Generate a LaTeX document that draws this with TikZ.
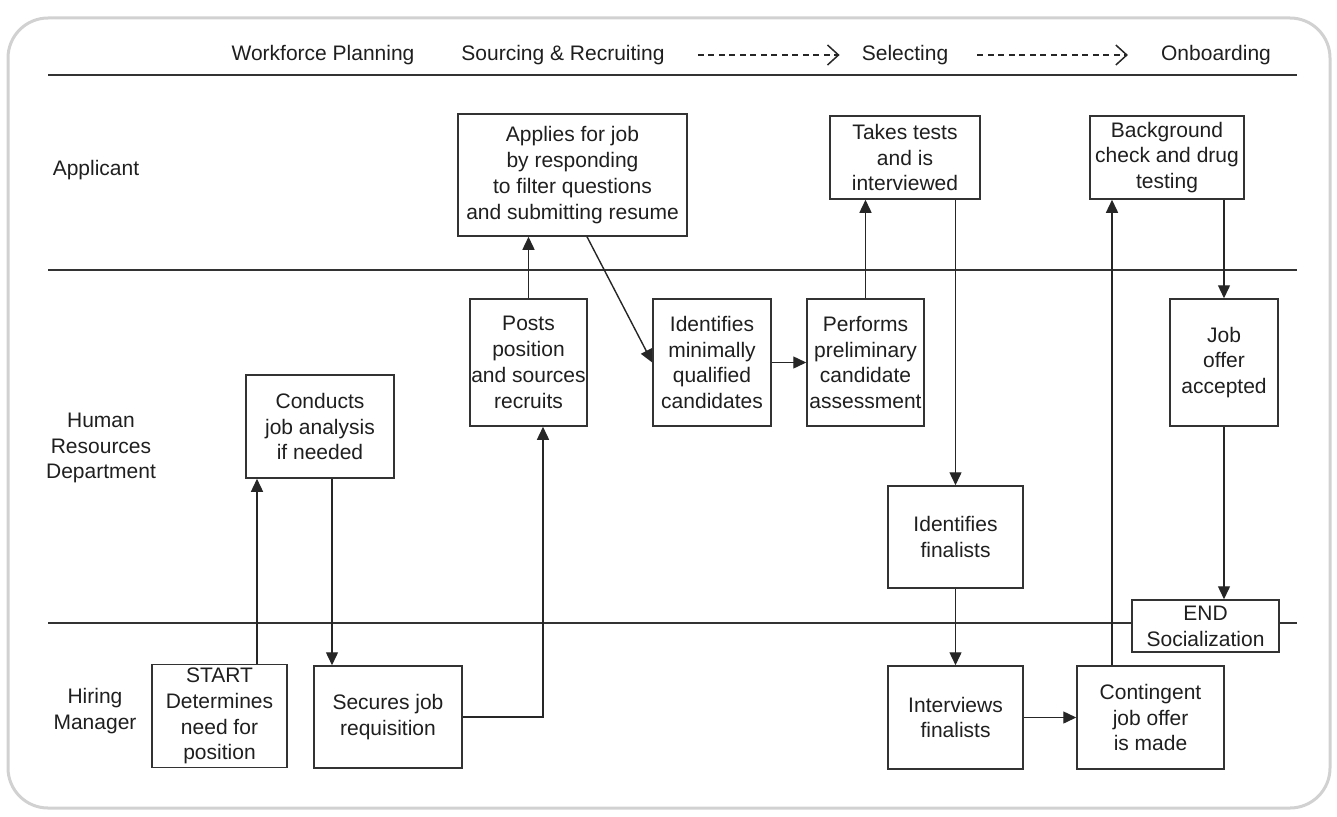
\documentclass[tikz,border=0pt]{standalone}
\usepackage{fontspec}
\setmainfont{Liberation Sans}
\usetikzlibrary{arrows.meta}
\begin{document}
\begin{tikzpicture}[x=1pt,y=-1pt,
  every node/.style={font=\fontsize{21}{25.8}\selectfont, text=black!88},
  box/.style={draw=black!80, line width=1.5pt, fill=white, align=center, inner sep=0pt},
  lane/.style={draw=black!80, line width=1.3pt},
  conn/.style={draw=black!85, line width=1.4pt, -{Triangle[length=13pt,width=12pt]}},
  phase/.style={inner sep=0pt, text height=15pt, text depth=4.5pt},
  phasearrow/.style={draw=black!85, line width=1.1pt, dash pattern=on 6pt off 4.5pt, -{Straight Barb[length=11pt,width=20pt,line width=1.5pt]}},
  lanelabel/.style={align=center, inner sep=0pt}
]
\useasboundingbox (0,0) rectangle (1337,816);
\draw[draw=black!18, line width=3pt, rounded corners=40pt] (8,18) rectangle (1330,808);

% header
\node[phase] (wp) at (323,55) {Workforce Planning};
\node[phase] (sr) at (563,55) {Sourcing \& Recruiting};
\node[phase] (sel) at (905,55) {Selecting};
\node[phase] (onb) at (1216,55) {Onboarding};
\draw[phasearrow, shorten <=33pt, shorten >=22pt] (sr.east) -- (sel.west);
\draw[phasearrow, shorten <=29pt, shorten >=33pt] (sel.east) -- (onb.west);

% lane lines
\draw[lane] (48,75) -- (1297,75);
\draw[lane] (48,270) -- (1297,270);
\draw[lane] (48,623) -- (1297,623);

% lane labels
\node[lanelabel] (lapp) at (96,170) {Applicant};
\node[lanelabel] (lhr) at (101,448) {Human\\Resources\\Department};
\node[lanelabel] (lhm) at (95,711) {Hiring\\Manager};

% boxes
\node[box, minimum width=229pt, minimum height=122pt] (applies) at (572.5,175) {Applies for job\\by responding\\to filter questions\\and submitting resume};
\node[box, minimum width=150pt, minimum height=83pt] (takes) at (905,157.5) {Takes tests\\and is\\interviewed};
\node[box, minimum width=154pt, minimum height=83pt] (bg) at (1167,157.5) {Background\\check and drug\\testing};
\node[box, minimum width=117pt, minimum height=127pt] (posts) at (528.5,362.5) {Posts\\position\\and sources\\recruits};
\node[box, minimum width=118pt, minimum height=127pt] (minq) at (712,362.5) {Identifies\\minimally\\qualified\\candidates};
\node[box, minimum width=117pt, minimum height=127pt] (perf) at (865.5,362.5) {Performs\\preliminary\\candidate\\assessment};
\node[box, minimum width=108pt, minimum height=127pt] (jobok) at (1224,362.5) {Job\\offer\\accepted};
\node[box, minimum width=148pt, minimum height=103pt] (conducts) at (320,426.5) {Conducts\\job analysis\\if needed};
\node[box, minimum width=135pt, minimum height=102pt] (finalists) at (955.5,537) {Identifies\\finalists};
\node[box, minimum width=147pt, minimum height=52pt] (endbox) at (1205.5,626) {END\\Socialization};
\node[box, minimum width=135pt, minimum height=103pt] (start) at (219.5,716) {START\\Determines\\need for\\position};
\node[box, minimum width=148pt, minimum height=102pt] (secures) at (388,717) {Secures job\\requisition};
\node[box, minimum width=135pt, minimum height=103pt] (interviews) at (955.5,717.5) {Interviews\\finalists};
\node[box, minimum width=147pt, minimum height=103pt] (contingent) at (1150.5,717.5) {Contingent\\job offer\\is made};

% connector x positions
\coordinate (c257) at (257,0);
\coordinate (c332) at (332,0);
\coordinate (c543) at (543,0);
\coordinate (c587) at (587,0);
\coordinate (c1112) at (1112,0);

% connectors
\draw[conn] (start.north -| c257) -- (conducts.south -| c257);
\draw[conn] (conducts.south -| c332) -- (secures.north -| c332);
\draw[conn] (secures.east) -| (posts.south -| c543);
\draw[conn] (posts.north) -- (applies.south -| posts.north);
\draw[conn] (applies.south -| c587) -- (minq.west);
\draw[conn] (minq.east) -- (perf.west);
\draw[conn] (perf.north) -- (takes.south -| perf.north);
\draw[conn] (takes.south -| finalists.north) -- (finalists.north);
\draw[conn] (finalists.south) -- (interviews.north);
\draw[conn] (interviews.east) -- (contingent.west);
\draw[conn] (contingent.north -| c1112) -- (bg.south -| c1112);
\draw[conn] (bg.south -| jobok.north) -- (jobok.north);
\draw[conn] (jobok.south) -- (endbox.north -| jobok.south);
\end{tikzpicture}
\end{document}
